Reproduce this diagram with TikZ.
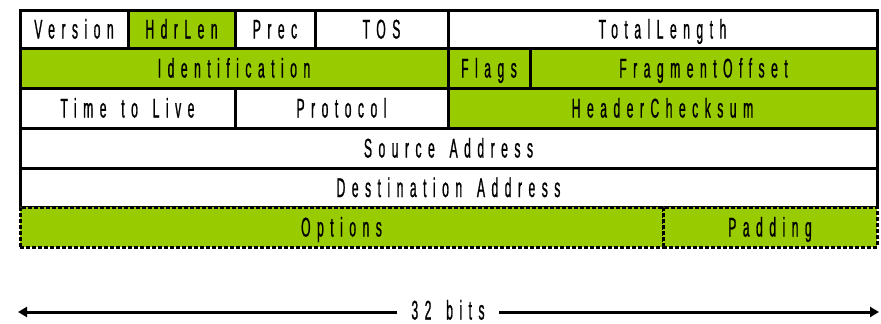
\documentclass[tikz,border=0pt]{standalone}
\usepackage{fontspec}
\newfontfamily\nf[FakeStretch=0.45,FakeBold=0.8,LetterSpace=24,WordSpace=1.5]{Liberation Sans}
\definecolor{lime}{HTML}{99CC00}
\newcommand\fieldbox[7]{%
  \node[field,fill=#7,minimum width={(#4-#2)*1pt},minimum height={(#5-#3)*1pt}]
    (#1) at ({(#2+#4)/2},{(#3+#5)/2}) {#6};}
\newcommand\dotbox[6]{%
  \node[dotfield,minimum width={(#4-#2)*1pt},minimum height={(#5-#3)*1pt}]
    (#1) at ({(#2+#4)/2},{(#3+#5)/2}) {#6};}
\tikzset{
  lbltext/.style={font=\nf\fontsize{27}{27}\selectfont,text height=19pt,text depth=0pt,inner sep=0pt},
  field/.style={draw=black,line width=3pt,lbltext},
  dotfield/.style={field,fill=lime,
    preaction={draw=white,line width=3pt},
    dash pattern=on 4pt off 2pt},
  bits/.style={line width=3pt,-{Triangle[length=9pt,width=10pt]}}
}
\usetikzlibrary{arrows.meta}
\begin{document}
\begin{tikzpicture}[x=1pt,y=-1pt]
\useasboundingbox[fill=white] (0,0) rectangle (881,324);
\fieldbox{ver}{20}{10}{128}{48}{Version}{white}
\fieldbox{hl}{128}{10}{235}{48}{HdrLen}{lime}
\fieldbox{prec}{235}{10}{315}{48}{Prec}{white}
\fieldbox{tos}{315}{10}{448}{48}{TOS}{white}
\fieldbox{tl}{448}{10}{877}{48}{TotalLength}{white}
\fieldbox{id}{20}{48}{448}{88}{Identification}{lime}
\fieldbox{flags}{448}{48}{530}{88}{Flags}{lime}
\fieldbox{fo}{530}{48}{877}{88}{FragmentOffset}{lime}
\fieldbox{ttl}{20}{88}{235}{128}{Time to Live}{white}
\fieldbox{proto}{235}{88}{448}{128}{Protocol}{white}
\fieldbox{hc}{448}{88}{877}{128}{HeaderChecksum}{lime}
\fieldbox{src}{20}{128}{877}{168}{Source Address}{white}
\fieldbox{dst}{20}{168}{877}{207}{Destination Address}{white}
\dotbox{opt}{20}{207}{663}{247}{Options}
\dotbox{pad}{663}{207}{877}{247}{Padding}
\node[lbltext] (lbl) at (448,310) {32 bits};
\coordinate (la) at (18,312);
\coordinate (ra) at (879,312);
\draw[bits] ([xshift=-14pt,yshift=-2pt]lbl.west) -- (la);
\draw[bits] ([xshift=14pt,yshift=-2pt]lbl.east) -- (ra);
\end{tikzpicture}
\end{document}
